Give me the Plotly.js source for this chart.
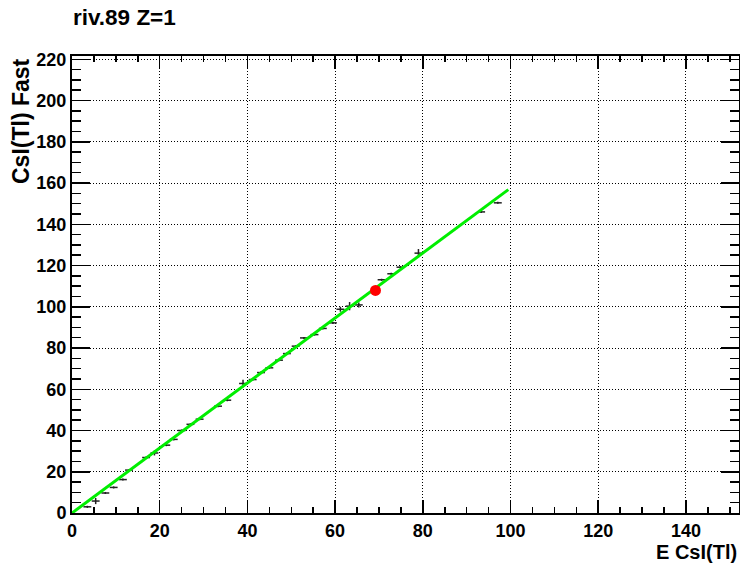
<!DOCTYPE html>
<html>
<head>
<meta charset="utf-8">
<script src="https://cdn.plot.ly/plotly-3.0.1.min.js"></script>
<style>html,body{margin:0;padding:0;background:#fff;}#chart{width:740px;height:569px;}</style>
</head>
<body>
<div id="chart"></div>
<script>
// Profile points (E CsI(Tl) vs CsI(Tl) Fast)
const pointX = [3.5, 5.4, 7.6, 9.5, 11.6, 13.0, 16.9, 18.8, 21.5, 23.2, 25.0, 27.0, 29.1, 33.3, 35.4,
                39.0, 41.2, 43.1, 45.0, 47.2, 49.0, 51.0, 52.9, 55.3, 57.2, 59.5, 61.2, 63.3, 65.4,
                70.6, 72.8, 74.9, 79.0, 93.3, 97.1];
const pointY = [3.0, 5.8, 9.7, 12.4, 16.2, 20.8, 26.9, 29.1, 32.9, 35.7, 40.0, 43.0, 45.5, 51.8, 54.7,
                62.8, 64.7, 68.1, 70.4, 74.1, 77.3, 80.9, 84.9, 86.5, 89.5, 92.2, 98.8, 100.3, 100.9,
                113.1, 116.0, 119.2, 126.0, 146.0, 150.4];
const pointErrX = [0.9, 0.9, 0.9, 0.9, 0.9, 0.9, 0.9, 0.9, 0.9, 0.9, 0.9, 0.9, 0.9, 0.9, 0.9,
                   0.9, 0.9, 0.9, 0.9, 0.9, 0.9, 0.9, 0.9, 0.9, 0.9, 0.9, 0.9, 0.9, 0.9,
                   0.9, 0.9, 0.9, 0.9, 0.9, 0.9];
const pointErrY = [0.5, 1.5, 0.5, 0.5, 0.5, 0.5, 0.5, 1.2, 0.5, 0.5, 0.5, 0.5, 0.5, 0.5, 0.5,
                   1.8, 0.5, 0.5, 0.5, 0.5, 0.5, 0.5, 0.5, 0.5, 0.5, 0.5, 1.2, 2.0, 1.2,
                   0.5, 0.5, 0.5, 2.0, 0.5, 0.5];
// Linear fit
const fitX = [0, 99.5];
const fitY = [0, 156.8];
// Highlighted point
const markX = [69.2];
const markY = [107.9];

const xTitle = 'E CsI(Tl)';
const yTitle = 'CsI(Tl) Fast';
const chartTitle = 'riv.89 Z=1';

const FONT = 'Liberation Sans, Arial, Helvetica, sans-serif';

const traces = [
  {
    x: pointX, y: pointY, type: 'scatter', mode: 'markers',
    marker: {size: 1, color: '#222'},
    error_x: {type: 'data', array: pointErrX, visible: true, color: '#222', thickness: 1.5, width: 0},
    error_y: {type: 'data', array: pointErrY, visible: true, color: '#222', thickness: 1.5, width: 0},
    hoverinfo: 'skip', showlegend: false
  },
  {
    x: fitX, y: fitY, type: 'scatter', mode: 'lines',
    line: {color: '#00ee00', width: 3}, showlegend: false
  },
  {
    x: markX, y: markY, type: 'scatter', mode: 'markers',
    marker: {size: 11, color: '#ff0000'}, showlegend: false
  }
];

const axisCommon = {
  showline: true, linecolor: 'black', linewidth: 2, mirror: 'allticks',
  ticks: 'inside', tickcolor: 'black', tickwidth: 1.5,
  showgrid: true, gridcolor: 'black', gridwidth: 1, griddash: '1px,2px',
  zeroline: false,
  tickfont: {family: FONT, size: 18, weight: 'bold', color: 'black'}
};

const layout = {
  width: 740, height: 569,
  paper_bgcolor: 'white', plot_bgcolor: 'white',
  margin: {l: 72, r: 1, t: 56, b: 56},
  showlegend: false,
  title: {
    text: chartTitle, xref: 'container', yref: 'container',
    x: 73/740, xanchor: 'left', y: 1 - 17/569, yanchor: 'middle',
    font: {family: FONT, size: 22.5, weight: 'bold', color: 'black'}
  },
  xaxis: Object.assign({}, axisCommon, {
    range: [0, 152.1], dtick: 20, tick0: 0, ticklen: 13,
    minor: {dtick: 5, ticklen: 6, tickcolor: 'black', showgrid: false, ticks: 'inside'}
  }),
  yaxis: Object.assign({}, axisCommon, {
    range: [0, 221.6], dtick: 20, tick0: 0, ticklen: 18,
    minor: {dtick: 5, ticklen: 9, tickcolor: 'black', showgrid: false, ticks: 'inside'}
  }),
  annotations: [
    {
      text: xTitle, xref: 'paper', yref: 'paper', x: 1, y: 0,
      xanchor: 'right', yanchor: 'middle', yshift: -39, showarrow: false,
      font: {family: FONT, size: 20, weight: 'bold', color: 'black'}
    },
    {
      text: yTitle, xref: 'paper', yref: 'paper', x: 0, y: 1,
      xanchor: 'center', yanchor: 'top', xshift: -51, showarrow: false, textangle: -90,
      font: {family: FONT, size: 23, weight: 'bold', color: 'black'}
    }
  ]
};

Plotly.newPlot('chart', traces, layout, {displayModeBar: false, staticPlot: true});
</script>
</body>
</html>
